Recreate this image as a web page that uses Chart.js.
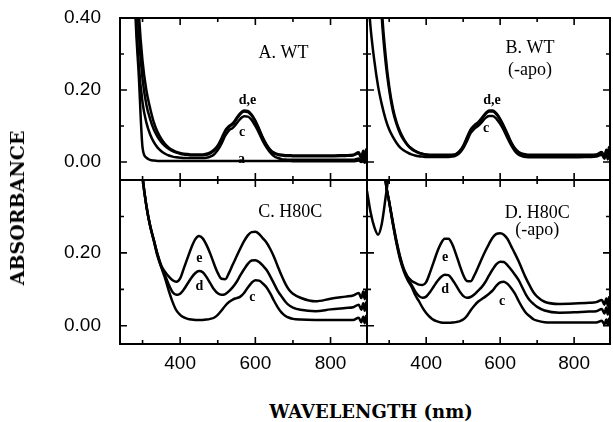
<!DOCTYPE html>
<html>
<head>
<meta charset="utf-8">
<script src="https://cdn.jsdelivr.net/npm/chart.js@4.4.1/dist/chart.umd.min.js"></script>
<style>
  body { margin: 0; background: #fff; width: 613px; height: 422px; position: relative; overflow: hidden; }
  canvas { position: absolute; }
  .axis-title { position: absolute; font-family: 'DejaVu Serif', serif; font-weight: bold; color: #000; white-space: nowrap; }
</style>
</head>
<body>
<canvas id="panel-a" width="372" height="186" style="left:0px;top:0px"></canvas>
<canvas id="panel-b" width="251" height="186" style="left:362px;top:0px"></canvas>
<canvas id="panel-c" width="372" height="200" style="left:0px;top:175px"></canvas>
<canvas id="panel-d" width="251" height="200" style="left:362px;top:175px"></canvas>
<div class="axis-title" style="left:17px;top:208px;font-size:19px;transform:translate(-50%,-50%) rotate(-90deg)">ABSORBANCE</div>
<div class="axis-title" style="left:371px;top:411px;font-size:18px;transform:translate(-50%,-50%)">WAVELENGTH (nm)</div>
<script>
// wavelength (nm) shared by every spectrum
const wavelengths = [240, 250, 260, 270, 280, 290, 300, 310, 320, 330,
  340, 350, 360, 370, 380, 390, 400, 410, 420, 430,
  440, 450, 460, 470, 480, 490, 500, 510, 520, 530,
  540, 550, 560, 570, 580, 590, 600, 610, 620, 630,
  640, 650, 660, 670, 680, 690, 700, 720, 760, 800,
  840, 860, 875, 882, 887, 891, 894, 897];

const yTicksTop = [0, 0.2, 0.4];
const yTicksBottom = [0, 0.2];
const xTicks = [400, 600, 800];

// A. WT
const wtA = [1.6, 1.4, 1.2, 0.9, 0.44, 0.24, 0.04, 0.012, 0.006, 0.004,
  0.003, 0.003, 0.003, 0.003, 0.003, 0.003, 0.003, 0.003, 0.003, 0.003,
  0.003, 0.003, 0.003, 0.003, 0.003, 0.003, 0.003, 0.003, 0.003, 0.003,
  0.003, 0.003, 0.003, 0.003, 0.003, 0.003, 0.003, 0.003, 0.003, 0.003,
  0.003, 0.003, 0.003, 0.003, 0.003, 0.003, 0.002, 0.002, 0.002, 0.002,
  0.002, 0.002, 0.004, 0.0, 0.006, -0.002, 0.007, 0.0];
const wtC = [1.8, 1.5, 1.2, 0.8, 0.47, 0.27, 0.165, 0.11, 0.077, 0.055,
  0.04, 0.03, 0.023, 0.018, 0.015, 0.013, 0.012, 0.011, 0.011, 0.011,
  0.011, 0.011, 0.011, 0.012, 0.015, 0.021, 0.033, 0.051, 0.073, 0.088,
  0.095, 0.107, 0.12, 0.127, 0.126, 0.117, 0.1, 0.08, 0.058, 0.04,
  0.026, 0.016, 0.011, 0.008, 0.007, 0.006, 0.006, 0.006, 0.006, 0.006,
  0.006, 0.006, 0.01, 0.002, 0.012, 0.0, 0.014, 0.002];
const wtD = [2.0, 1.7, 1.4, 1.0, 0.6, 0.36, 0.23, 0.16, 0.12, 0.09,
  0.07, 0.055, 0.044, 0.036, 0.03, 0.026, 0.023, 0.021, 0.02, 0.019,
  0.019, 0.019, 0.019, 0.02, 0.024, 0.031, 0.043, 0.063, 0.085, 0.097,
  0.105, 0.119, 0.133, 0.14, 0.139, 0.129, 0.112, 0.089, 0.066, 0.046,
  0.032, 0.024, 0.02, 0.018, 0.017, 0.017, 0.016, 0.016, 0.016, 0.016,
  0.017, 0.018, 0.024, 0.011, 0.027, 0.008, 0.03, 0.01];
const wtE = [2.2, 1.9, 1.6, 1.2, 0.7, 0.42, 0.28, 0.2, 0.15, 0.11,
  0.083, 0.064, 0.05, 0.04, 0.033, 0.028, 0.025, 0.023, 0.022, 0.021,
  0.021, 0.021, 0.021, 0.023, 0.027, 0.034, 0.046, 0.066, 0.088, 0.1,
  0.108, 0.122, 0.136, 0.143, 0.142, 0.132, 0.115, 0.092, 0.068, 0.048,
  0.034, 0.026, 0.022, 0.02, 0.019, 0.019, 0.018, 0.018, 0.018, 0.018,
  0.019, 0.02, 0.027, 0.013, 0.031, 0.009, 0.035, 0.012];

// B. WT (-apo)
const apoC = [0.5, 0.37, 0.28, 0.21, 0.16, 0.12, 0.09, 0.07, 0.053, 0.04,
  0.032, 0.026, 0.021, 0.018, 0.016, 0.015, 0.014, 0.014, 0.014, 0.014,
  0.014, 0.014, 0.014, 0.015, 0.018, 0.025, 0.038, 0.058, 0.08, 0.092,
  0.1, 0.11, 0.122, 0.128, 0.128, 0.12, 0.106, 0.088, 0.066, 0.046,
  0.03, 0.02, 0.016, 0.014, 0.013, 0.013, 0.013, 0.013, 0.013, 0.013,
  0.014, 0.015, 0.02, 0.009, 0.024, 0.007, 0.028, 0.012];
const apoD = [1.4, 1.1, 0.85, 0.6, 0.4, 0.28, 0.2, 0.142, 0.105, 0.078,
  0.06, 0.046, 0.036, 0.03, 0.025, 0.022, 0.02, 0.019, 0.018, 0.018,
  0.018, 0.018, 0.018, 0.019, 0.021, 0.028, 0.042, 0.065, 0.087, 0.099,
  0.107, 0.119, 0.132, 0.14, 0.14, 0.132, 0.117, 0.097, 0.075, 0.053,
  0.036, 0.026, 0.021, 0.019, 0.018, 0.018, 0.018, 0.018, 0.018, 0.018,
  0.018, 0.019, 0.025, 0.013, 0.03, 0.011, 0.036, 0.02];
const apoE = [1.6, 1.3, 1.0, 0.7, 0.43, 0.3, 0.21, 0.15, 0.11, 0.083,
  0.063, 0.048, 0.038, 0.031, 0.026, 0.023, 0.021, 0.02, 0.02, 0.02,
  0.02, 0.02, 0.02, 0.02, 0.022, 0.03, 0.045, 0.068, 0.09, 0.102,
  0.11, 0.122, 0.135, 0.143, 0.143, 0.135, 0.12, 0.1, 0.078, 0.055,
  0.038, 0.028, 0.023, 0.021, 0.02, 0.02, 0.02, 0.02, 0.02, 0.02,
  0.02, 0.021, 0.028, 0.015, 0.034, 0.013, 0.042, 0.025];

// C. H80C
const h80C = [1.5, 1.3, 1.1, 0.9, 0.7, 0.55, 0.41, 0.33, 0.275, 0.233,
  0.19, 0.16, 0.13, 0.095, 0.065, 0.042, 0.03, 0.023, 0.019, 0.017,
  0.016, 0.016, 0.016, 0.017, 0.019, 0.022, 0.03, 0.042, 0.055, 0.065,
  0.072, 0.076, 0.08, 0.09, 0.105, 0.118, 0.125, 0.124, 0.116, 0.105,
  0.088, 0.068, 0.05, 0.036, 0.027, 0.022, 0.019, 0.017, 0.016, 0.016,
  0.016, 0.016, 0.022, 0.01, 0.025, 0.007, 0.027, 0.01];
const h80D = [1.5, 1.3, 1.1, 0.9, 0.7, 0.55, 0.41, 0.33, 0.275, 0.235,
  0.195, 0.162, 0.138, 0.112, 0.092, 0.085, 0.088, 0.1, 0.116, 0.132,
  0.144, 0.15, 0.147, 0.134, 0.117, 0.1, 0.089, 0.085, 0.087, 0.095,
  0.106, 0.12, 0.138, 0.155, 0.17, 0.179, 0.18, 0.175, 0.165, 0.153,
  0.135, 0.115, 0.095, 0.08, 0.066, 0.056, 0.05, 0.044, 0.04, 0.045,
  0.049, 0.051, 0.058, 0.044, 0.062, 0.041, 0.064, 0.045];
const h80E = [1.5, 1.3, 1.1, 0.9, 0.7, 0.55, 0.41, 0.33, 0.275, 0.235,
  0.195, 0.165, 0.148, 0.135, 0.125, 0.121, 0.13, 0.158, 0.187, 0.215,
  0.237, 0.246, 0.24, 0.222, 0.198, 0.17, 0.145, 0.129, 0.128, 0.145,
  0.168, 0.19, 0.212, 0.232, 0.248, 0.257, 0.258, 0.252, 0.24, 0.228,
  0.21, 0.188, 0.162, 0.137, 0.115, 0.098, 0.088, 0.077, 0.067, 0.074,
  0.08, 0.083, 0.09, 0.076, 0.094, 0.073, 0.097, 0.078];

// D. H80C (-apo)
const h80apoA = [0.37, 0.31, 0.27, 0.25, 0.28, 0.35, 0.43, 0.56];
const h80apoC = [1.4, 1.2, 1.0, 0.75, 0.55, 0.4, 0.34, 0.28, 0.225, 0.18,
  0.148, 0.125, 0.108, 0.085, 0.068, 0.05, 0.035, 0.024, 0.016, 0.012,
  0.009, 0.008, 0.008, 0.009, 0.01, 0.012, 0.017, 0.027, 0.042, 0.055,
  0.066, 0.073, 0.08, 0.088, 0.097, 0.11, 0.119, 0.121, 0.115, 0.103,
  0.088, 0.068, 0.05, 0.035, 0.026, 0.018, 0.014, 0.01, 0.009, 0.009,
  0.009, 0.009, 0.014, 0.004, 0.017, 0.002, 0.019, 0.005];
const h80apoD = [1.4, 1.2, 1.0, 0.75, 0.55, 0.4, 0.34, 0.28, 0.228, 0.185,
  0.152, 0.13, 0.113, 0.095, 0.082, 0.077, 0.08, 0.092, 0.107, 0.122,
  0.134, 0.14, 0.139, 0.128, 0.112, 0.095, 0.082, 0.077, 0.079, 0.086,
  0.096, 0.106, 0.12, 0.138, 0.155, 0.169, 0.176, 0.175, 0.166, 0.154,
  0.14, 0.125, 0.105, 0.085, 0.07, 0.06, 0.052, 0.042, 0.036, 0.037,
  0.039, 0.04, 0.046, 0.034, 0.05, 0.031, 0.052, 0.035];
const h80apoE = [1.4, 1.2, 1.0, 0.75, 0.55, 0.4, 0.34, 0.285, 0.232, 0.188,
  0.155, 0.135, 0.124, 0.118, 0.113, 0.112, 0.12, 0.145, 0.174, 0.203,
  0.226, 0.239, 0.239, 0.225, 0.198, 0.168, 0.14, 0.123, 0.122, 0.138,
  0.16, 0.183, 0.205, 0.225, 0.242, 0.252, 0.254, 0.25, 0.238, 0.218,
  0.198, 0.177, 0.153, 0.13, 0.11, 0.092, 0.08, 0.066, 0.06, 0.061,
  0.063, 0.065, 0.071, 0.058, 0.075, 0.055, 0.078, 0.06];

// panel captions and curve letters, placed at [wavelength, absorbance]
const notesA = [['A. WT', 675, 0.303, 'title'], ['d,e', 579, 0.172, 'curve'], ['c', 565, 0.083, 'curve'], ['a', 563, 0.006, 'curve']];
const notesB = [['B. WT', 681, 0.317, 'title'], ['(-apo)', 681, 0.256, 'title'], ['d,e', 578, 0.172, 'curve'], ['c', 562, 0.092, 'curve']];
const notesC = [['C. H80C', 693, 0.312, 'title'], ['e', 451, 0.186, 'curve'], ['d', 451, 0.107, 'curve'], ['c', 592, 0.079, 'curve']];
const notesD = [['D. H80C', 700, 0.31, 'title'], ['(-apo)', 700, 0.263, 'title'], ['e', 451, 0.189, 'curve'], ['d', 451, 0.099, 'curve'], ['c', 605, 0.066, 'curve']];

Chart.defaults.font.family = "'Liberation Sans', Arial, sans-serif";
Chart.defaults.color = '#000';

// frame with inward ticks on every side
const frameTicks = {
  id: 'frameTicks',
  afterDatasetsDraw(chart) {
    const { ctx, chartArea: ca, scales: { x, y } } = chart;
    ctx.save();
    ctx.strokeStyle = '#000';
    ctx.lineWidth = 2;
    ctx.strokeRect(ca.left, ca.top, ca.right - ca.left, ca.bottom - ca.top);
    ctx.lineWidth = 1.6;
    ctx.beginPath();
    for (let w = 300; w <= 800; w += 100) {
      const px = x.getPixelForValue(w);
      const len = w % 200 === 0 ? 7 : 4;
      ctx.moveTo(px, ca.top); ctx.lineTo(px, ca.top + len);
      ctx.moveTo(px, ca.bottom); ctx.lineTo(px, ca.bottom - len);
    }
    for (let k = 0; k <= 3; k++) {
      const py = y.getPixelForValue(k / 10);
      const len = k % 2 === 0 ? 7 : 4;
      ctx.moveTo(ca.left, py); ctx.lineTo(ca.left + len, py);
      ctx.moveTo(ca.right, py); ctx.lineTo(ca.right - len, py);
    }
    ctx.stroke();
    ctx.restore();
  }
};

const notesPlugin = {
  id: 'notes',
  afterDatasetsDraw(chart, args, opts) {
    const { ctx, scales: { x, y } } = chart;
    ctx.save();
    ctx.fillStyle = '#000';
    ctx.textAlign = 'center';
    ctx.textBaseline = 'middle';
    opts.items.forEach(([text, w, v, kind]) => {
      ctx.font = kind === 'title' ? "18px 'Liberation Serif'" : "bold 14px 'Liberation Serif'";
      ctx.fillText(text, x.getPixelForValue(w), y.getPixelForValue(v));
    });
    ctx.restore();
  }
};

function makePanel(id, seriesList, notes, cfg) {
  const datasets = seriesList.map(s => ({
    data: s.map((v, i) => ({ x: wavelengths[i], y: v })),
    borderColor: '#000',
    borderWidth: 2.5,
    pointRadius: 0,
    fill: false,
    cubicInterpolationMode: 'monotone'
  }));
  return new Chart(document.getElementById(id), {
    type: 'line',
    data: { datasets },
    plugins: [frameTicks, notesPlugin],
    options: {
      responsive: false,
      animation: false,
      devicePixelRatio: 1,
      layout: { padding: cfg.padding },
      plugins: { legend: { display: false }, tooltip: { enabled: false }, notes: { items: notes } },
      scales: {
        x: {
          type: 'linear', min: 240, max: 897,
          display: cfg.showX,
          grid: { display: false, drawTicks: false },
          border: { display: false },
          afterBuildTicks: s => { s.ticks = xTicks.map(v => ({ value: v })); },
          afterFit: s => {
            if (cfg.showX) s.height = 31;
            s.paddingLeft = 0; s.paddingRight = 0;
          },
          ticks: { padding: 8, font: { size: 19 }, callback: v => String(v) }
        },
        y: {
          type: 'linear', min: -0.05, max: 0.40,
          display: cfg.showY,
          grid: { display: false, drawTicks: false },
          border: { display: false },
          afterBuildTicks: s => { s.ticks = cfg.yTicks.map(v => ({ value: v })); },
          afterFit: s => {
            if (cfg.showY) s.width = 120;
            s.paddingTop = 0; s.paddingBottom = 0;
          },
          ticks: { padding: 19, font: { size: 19 }, callback: v => v.toFixed(2) }
        }
      }
    }
  });
}

makePanel('panel-a', [wtA, wtC, wtD, wtE], notesA,
  { showX: false, showY: true, yTicks: yTicksTop, padding: { left: 0, right: 5, top: 18, bottom: 6 } });
makePanel('panel-b', [apoC, apoD, apoE], notesB,
  { showX: false, showY: false, yTicks: yTicksTop, padding: { left: 5, right: 3, top: 18, bottom: 6 } });
makePanel('panel-c', [h80C, h80D, h80E], notesC,
  { showX: true, showY: true, yTicks: yTicksBottom, padding: { left: 0, right: 5, top: 5, bottom: 0 } });
makePanel('panel-d', [h80apoA, h80apoC, h80apoD, h80apoE], notesD,
  { showX: true, showY: false, yTicks: yTicksBottom, padding: { left: 5, right: 3, top: 5, bottom: 0 } });
</script>
</body>
</html>
